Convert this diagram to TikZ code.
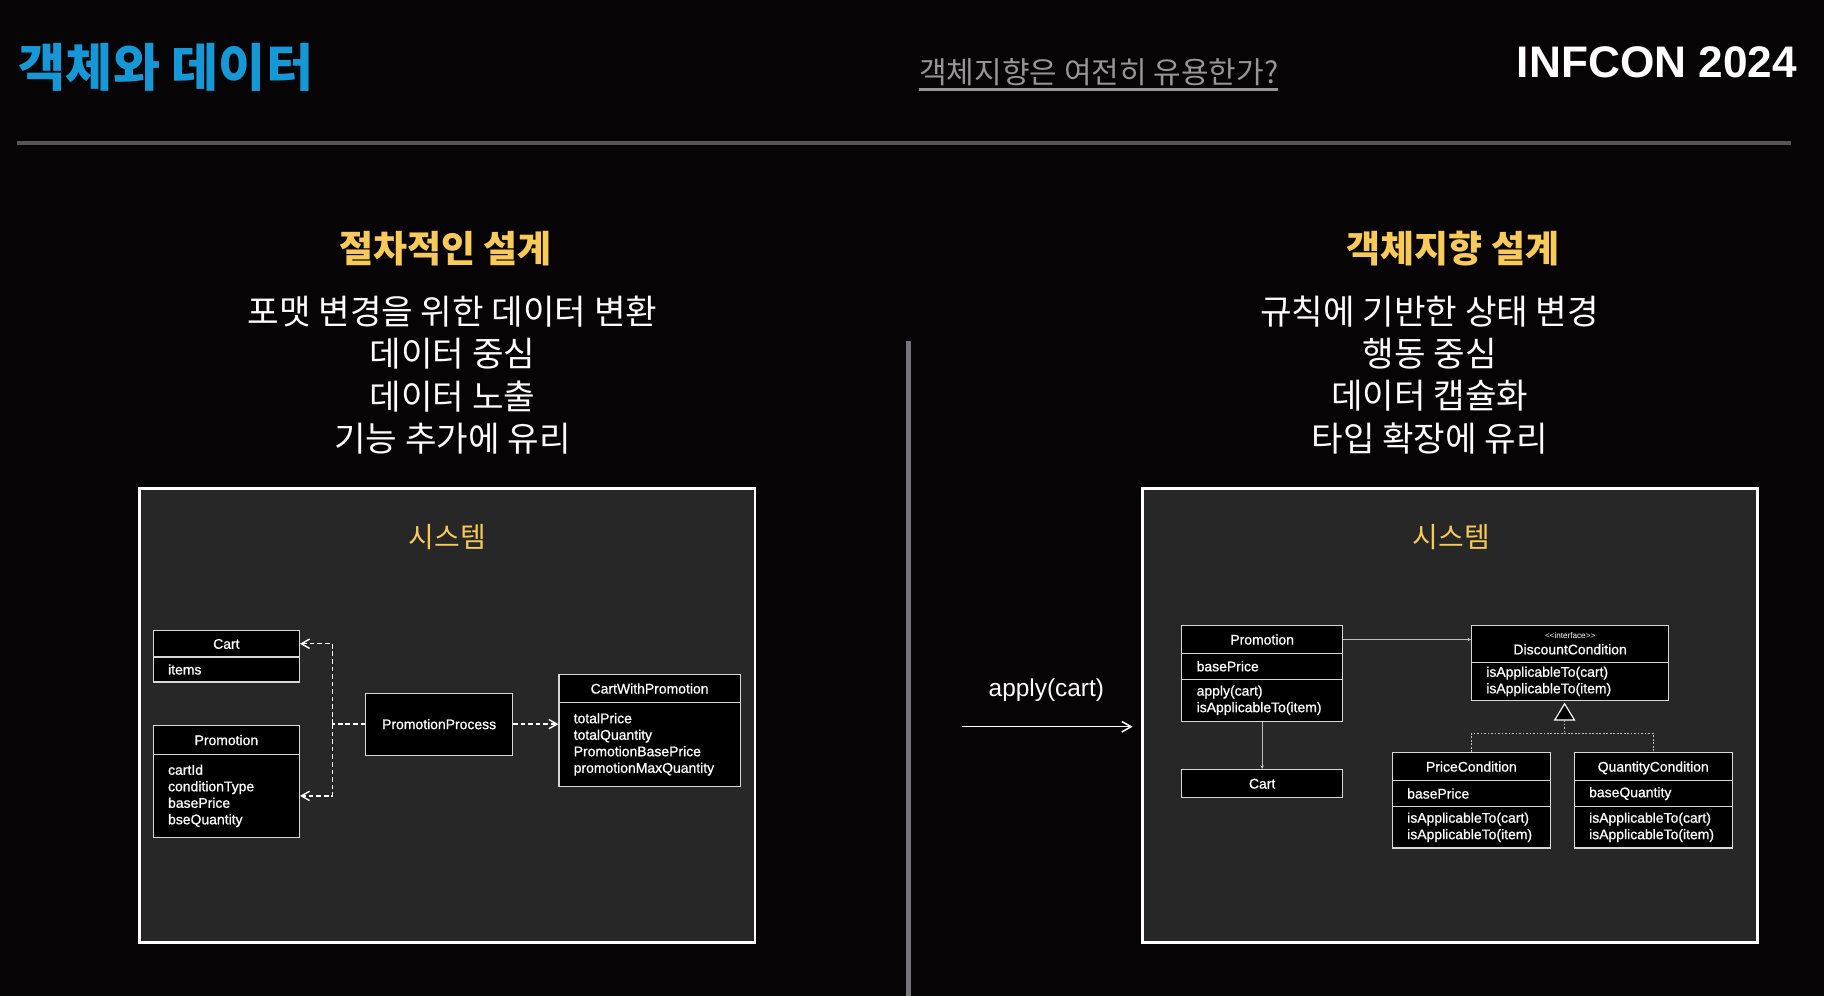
\documentclass[tikz,border=0pt]{standalone}
\usepackage{fontspec}
\setmainfont{Liberation Sans}
\newfontfamily\kr{Noto Sans CJK KR}
\newfontfamily\lsf{Liberation Sans}
\newfontfamily\lsm{Liberation Sans}[FakeBold=0.8]
\usetikzlibrary{arrows.meta,calc}
\definecolor{bg}{RGB}{6,4,5}
\definecolor{titleblue}{RGB}{22,152,214}
\definecolor{subgray}{RGB}{150,150,150}
\definecolor{rulegray}{RGB}{85,85,85}
\definecolor{divgray}{RGB}{118,118,122}
\definecolor{yel}{RGB}{247,202,90}
\definecolor{panelfill}{RGB}{39,39,39}
\definecolor{boxline}{RGB}{215,215,215}
\definecolor{conn}{RGB}{190,190,190}
\newcommand\umlfs{\lsm\fontsize{12}{14.2}\selectfont}
\begin{document}
\begin{tikzpicture}[x=1pt,y=-1pt,
  umlh/.style={draw=boxline, fill=black, line width=1pt, inner sep=0pt, text=white, font=\umlfs, align=center, text height=8.6pt, text depth=0pt},
  umlb/.style={draw=boxline, fill=black, line width=1pt, inner xsep=12.7pt, inner ysep=0pt, text=white, font=\umlfs, align=left},
  umltxt/.style={inner sep=0pt, text=white, font=\umlfs},
  panel/.style={draw=white, fill=panelfill, line width=2.5pt, minimum width=529pt, minimum height=390pt, inner sep=0pt},
  head/.style={inner sep=0pt, text=yel, font=\kr\bfseries\fontsize{31.8}{31.8}\selectfont},
  bodyline/.style={inner sep=0pt, text=white, font=\kr\fontsize{29.5}{29.5}\selectfont},
  sys/.style={inner sep=0pt, text=yel, font=\kr\fontsize{24}{24}\selectfont},
  dsh/.style={white, line width=1.2pt, dash pattern=on 4pt off 2.5pt},
  dtip/.style={-{Straight Barb[length=7pt,width=8pt]}},
  dotc/.style={conn, line width=1pt, dash pattern=on 1.5pt off 1.5pt},
  solidc/.style={conn, line width=1pt, -{Stealth[length=3pt,width=3pt]}}
]
\fill[bg] (0,0) rectangle (1568,856);
\useasboundingbox (0,0) rectangle (1568,856);

% header
\node[anchor=west, inner sep=0pt, text=titleblue, font=\kr\bfseries\fontsize{44}{44}\selectfont] (title) at (16,57.5) {객체와 데이터};
\node[anchor=west, inner sep=0pt, text=subgray, font=\kr\fontsize{25.8}{25.8}\selectfont] (sub) at (790,62) {객체지향은 여전히 유용한가?};
\draw[subgray, line width=2pt] ($(sub.west)+(0,15)$) -- ($(sub.east)+(0,15)$);
\node[anchor=east, inner sep=0pt, text=white, font=\lsf\bfseries\fontsize{38}{38}\selectfont] (infcon) at (1545,53.4) {INFCON 2024};
\draw[rulegray, line width=3pt] (15,123) -- (1540,123);

% divider
\draw[divgray, line width=5pt] (781,293) -- (781,856);

% left column texts
\node[head] (hl) at (383,214) {절차적인 설계};
\node[bodyline] (l1) at (389,267.5) {포맷 변경을 위한 데이터 변환};
\node[bodyline] (l2) at (389,304) {데이터 중심};
\node[bodyline] (l3) at (389,340.5) {데이터 노출};
\node[bodyline] (l4) at (389,377) {기능 추가에 유리};

% right column texts
\node[head] (hr) at (1249,214) {객체지향 설계};
\node[bodyline] (r1) at (1229,267.5) {규칙에 기반한 상태 변경};
\node[bodyline] (r2) at (1229,304) {행동 중심};
\node[bodyline] (r3) at (1229,340.5) {데이터 캡슐화};
\node[bodyline] (r4) at (1229,377) {타입 확장에 유리};

% panels
\node[panel] (pl) at (384.5,615) {};
\node[panel] (pr) at (1246.5,615) {};
\node[sys] (sl) at (384.5,462) {시스템};
\node[sys] (sr) at (1247.5,462) {시스템};

% apply(cart) arrow
\node[inner sep=0pt, text=white, font=\lsf\fontsize{21}{21}\selectfont] (apl) at (899.5,593) {apply(cart)};
\coordinate (as) at (826.7,624.7);
\coordinate (ae) at (973.7,624.7);
\draw[white, line width=1.3pt, -{Straight Barb[length=8pt,width=9pt]}] (as) -- (ae);

% left UML
\node[umlh, minimum width=125.6pt, minimum height=22.8pt] (cartH) at (194.6,553.4) {Cart};
\node[umlb, text width=100.2pt, minimum height=21.5pt] (cartB) at (194.6,575.5) {items};
\node[umlh, minimum width=125.6pt, minimum height=24.7pt] (promH) at (194.6,636.2) {Promotion};
\node[umlb, text width=100.2pt, minimum height=71.3pt] (promB) at (194.6,684.2) {cartId\\conditionType\\basePrice\\bseQuantity};
\node[umlh, minimum width=126pt, minimum height=53.3pt] (pp) at (377.5,622.5) {PromotionProcess};
\node[umlh, minimum width=155.8pt, minimum height=24.3pt] (cwpH) at (558.4,591.9) {CartWithPromotion};
\node[umlb, text width=130.4pt, minimum height=71.7pt] (cwpB) at (558.4,639.9) {totalPrice\\totalQuantity\\PromotionBasePrice\\promotionMaxQuantity};

\draw[dsh] (pp.west) -- ++(-28.3,0) coordinate (jn);
\draw[dsh, dtip] (jn) |- (cartH.east);
\draw[dsh, dtip] (jn) |- (promB.east);
\draw[dsh, dtip] (pp.east) -- (pp.east -| cwpB.west);

% right UML
\node[umlh, minimum width=138pt, minimum height=23.5pt] (p2H) at (1085,549.8) {Promotion};
\node[umlb, text width=112.6pt, minimum height=22.5pt] (p2A) at (1085,572.8) {basePrice};
\node[umlb, text width=112.6pt, minimum height=36pt] (p2M) at (1085,602) {apply(cart)\\isApplicableTo(item)};
\node[umlh, minimum width=138pt, minimum height=24.3pt] (cart2) at (1085,673.55) {Cart};

\node[umlh, minimum width=169.5pt, minimum height=31.5pt] (dcH) at (1349.75,553.75) {};
\node[inner sep=0pt, text=white, font=\lsf\fontsize{7}{7}\selectfont] (dcS) at (1349.75,546.4) {<\kern0pt<interface>\kern0pt>};
\node[umltxt] (dcT) at (1349.75,558.2) {DiscountCondition};
\node[umlb, text width=144.1pt, minimum height=32.5pt] (dcM) at (1349.75,585.75) {isApplicableTo(cart)\\isApplicableTo(item)};

\node[umlh, minimum width=135.7pt, minimum height=24pt] (pcH) at (1264.85,659) {PriceCondition};
\node[umlb, text width=110.3pt, minimum height=22.4pt] (pcA) at (1264.85,682.2) {basePrice};
\node[umlb, text width=110.3pt, minimum height=35.6pt] (pcM) at (1264.85,711.2) {isApplicableTo(cart)\\isApplicableTo(item)};

\node[umlh, minimum width=135.6pt, minimum height=24pt] (qcH) at (1421.2,659) {QuantityCondition};
\node[umlb, text width=110.2pt, minimum height=22.4pt] (qcA) at (1421.2,682.2) {baseQuantity};
\node[umlb, text width=110.2pt, minimum height=35.6pt] (qcM) at (1421.2,711.2) {isApplicableTo(cart)\\isApplicableTo(item)};

\draw[solidc] (p2H.east) -- (p2H.east -| dcH.west);
\draw[solidc] (p2M.south) -- (cart2.north);

% realization
\coordinate (tA) at (1345,605);
\coordinate (tL) at (1336.5,619);
\coordinate (tR) at (1353.5,619);
\coordinate (tB) at (1345,619);
\draw[white, fill=black, line width=1pt] (tA) -- (tR) -- (tL) -- cycle;
\path (pcH.north) ++(0,-16) coordinate (b1);
\draw[dotc] (pcH.north) -- (b1) -| (qcH.north);
\draw[dotc] (tB) -- (tB |- b1);
\end{tikzpicture}
\end{document}
